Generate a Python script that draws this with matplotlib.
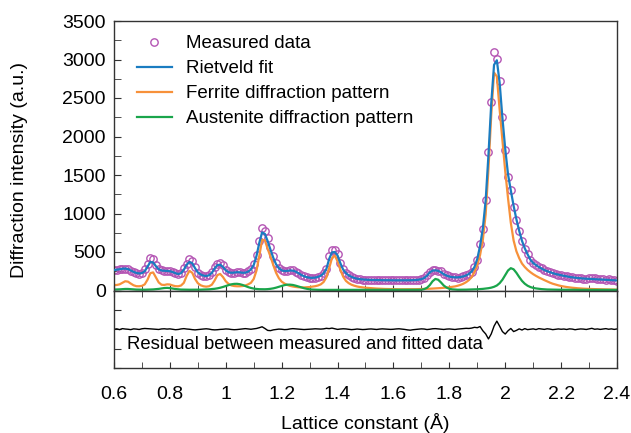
import numpy as np
import matplotlib
matplotlib.use("Agg")
import matplotlib.pyplot as plt
from matplotlib.ticker import MultipleLocator

plt.rcParams['font.family'] = ['Liberation Sans', 'DejaVu Sans']

# Lattice constant grid (Å), 0.60 .. 2.40 in 0.01 steps
lattice = np.round(np.arange(181) * 0.01 + 0.60, 2)

measured = [
    262, 270, 280, 282, 285, 275, 255, 237, 225, 220,
    228, 275, 350, 420, 405, 330, 278, 262, 258, 255,
    252, 240, 222, 210, 225, 290, 350, 412, 385, 300,
    232, 205, 190, 182, 200, 235, 300, 345, 352, 325,
    265, 240, 225, 232, 240, 235, 228, 228, 248, 275,
    340, 460, 640, 815, 770, 680, 560, 450, 355, 295,
    262, 250, 255, 262, 260, 245, 225, 200, 182, 170,
    165, 162, 168, 178, 192, 225, 285, 450, 525, 520,
    470, 360, 275, 225, 195, 175, 162, 150, 145, 140,
    138, 140, 136, 135, 138, 134, 136, 133, 135, 132,
    134, 131, 133, 130, 132, 130, 131, 133, 136, 140,
    148, 165, 198, 245, 262, 268, 258, 248, 215, 195,
    182, 174, 172, 168, 175, 182, 195, 210, 245, 300,
    400, 600, 800, 1180, 1800, 2450, 3100, 3010, 2720, 2250,
    1830, 1480, 1300, 1090, 920, 770, 640, 545, 470, 395,
    358, 332, 308, 288, 266, 252, 240, 226, 215, 206,
    198, 190, 182, 174, 170, 165, 160, 156, 151, 153,
    158, 165, 166, 152, 148, 150, 142, 145, 132, 135,
    126,
]

rietveld_fit = [
    265, 270, 276, 282, 285, 278, 260, 242, 228, 222,
    226, 250, 310, 370, 365, 315, 275, 260, 256, 254,
    250, 240, 225, 214, 225, 270, 335, 370, 355, 290,
    235, 208, 193, 188, 198, 228, 285, 330, 335, 305,
    262, 238, 230, 233, 238, 236, 230, 232, 245, 272,
    330, 450, 620, 755, 735, 640, 530, 425, 340, 290,
    262, 252, 255, 260, 258, 245, 225, 202, 185, 173,
    166, 164, 168, 177, 192, 222, 280, 410, 495, 500,
    455, 355, 272, 225, 196, 177, 163, 153, 147, 143,
    140, 138, 137, 136, 135, 135, 134, 134, 133, 133,
    132, 132, 132, 132, 132, 132, 133, 134, 136, 140,
    147, 162, 192, 235, 258, 262, 255, 238, 212, 193,
    181, 174, 171, 171, 175, 183, 196, 215, 248, 305,
    410, 580, 810, 1170, 1760, 2430, 2930, 2990, 2700, 2240,
    1840, 1510, 1300, 1100, 925, 775, 645, 548, 470, 400,
    358, 330, 306, 285, 266, 251, 238, 226, 215, 206,
    198, 190, 183, 176, 171, 166, 162, 158, 155, 153,
    151, 149, 147, 145, 143, 141, 139, 137, 135, 133,
    131,
]

ferrite = [
    70, 72, 80, 100, 120, 115, 90, 68, 56, 55,
    60, 80, 140, 225, 235, 170, 105, 75, 72, 80,
    78, 65, 56, 55, 65, 100, 190, 255, 230, 150,
    95, 68, 55, 50, 55, 75, 130, 200, 215, 175,
    120, 85, 66, 58, 55, 55, 58, 65, 80, 100,
    150, 260, 450, 660, 650, 540, 440, 330, 230, 160,
    115, 90, 72, 60, 52, 46, 42, 40, 40, 42,
    45, 50, 56, 65, 80, 110, 170, 290, 420, 455,
    380, 270, 180, 125, 95, 75, 62, 52, 45, 40,
    36, 33, 30, 27, 25, 23, 21, 20, 19, 18,
    17, 17, 16, 16, 16, 16, 16, 17, 17, 18,
    19, 20, 21, 23, 25, 27, 29, 32, 35, 38,
    42, 47, 53, 62, 73, 88, 108, 135, 175, 240,
    330, 460, 660, 990, 1580, 2280, 2830, 2780, 2350, 1950,
    1550, 1200, 880, 650, 510, 420, 350, 305, 268, 238,
    212, 190, 170, 152, 135, 118, 102, 88, 77, 67,
    58, 51, 45, 40, 36, 32, 29, 26, 24, 22,
    20, 19, 18, 17, 16, 15, 14, 13, 12, 12,
    11,
]

austenite = [
    12, 13, 15, 18, 20, 20, 17, 14, 12, 11,
    10, 10, 11, 12, 14, 17, 21, 27, 32, 34,
    31, 25, 19, 15, 12, 11, 10, 10, 10, 10,
    10, 11, 12, 13, 15, 18, 22, 28, 36, 46,
    58, 70, 80, 86, 87, 82, 72, 58, 44, 33,
    25, 20, 17, 16, 16, 18, 22, 28, 37, 48,
    60, 70, 76, 76, 72, 63, 52, 40, 30, 22,
    16, 12, 10, 9, 8, 8, 8, 8, 8, 8,
    8, 8, 8, 8, 8, 8, 8, 8, 8, 8,
    8, 8, 8, 8, 8, 8, 8, 8, 8, 8,
    8, 8, 8, 8, 8, 8, 8, 8, 8, 9,
    10, 18, 35, 70, 120, 150, 140, 105, 65, 38,
    22, 15, 12, 10, 10, 10, 11, 12, 13, 14,
    16, 18, 21, 25, 30, 37, 48, 65, 95, 140,
    200, 260, 290, 275, 230, 175, 125, 88, 62, 45,
    34, 27, 22, 18, 15, 13, 12, 11, 10, 10,
    10, 9, 9, 9, 9, 9, 8, 8, 8, 8,
    8, 8, 8, 8, 8, 8, 8, 8, 8, 8,
    8,
]

residual = [
    0, 5, -5, 8, 3, 0, -5, 5, 2, -3,
    6, 10, 8, 5, 2, 0, -3, 4, 6, 2,
    5, 0, -6, -3, 4, 8, 3, 0, -5, -8,
    -4, 0, 3, 6, 2, -5, -8, -6, -2, 0,
    4, 2, -3, -6, -4, 0, 5, 8, 4, 0,
    5, 10, 20, 32, 10, -15, -18, -8, -3, 2,
    0, -5, -3, 4, 8, 5, 2, 0, -4, -2,
    0, 3, 6, 4, 2, 5, 12, 8, 15, 6,
    -2, 3, 6, 4, 0, -5, -2, 3, 0, -4,
    -2, 2, 4, 0, -3, 2, 5, 3, 0, -2,
    0, 4, 6, 2, -2, -8, -12, -6, -2, 2,
    5, 3, -4, 0, 6, 8, 4, 0, -3, 2,
    4, 0, -3, 2, 5, 8, 12, 10, 15, 25,
    20, 35, -20, -60, -125, -60, 40, 105, 40, -30,
    -62, -20, 10, -30, -15, 5, -10, 8, -5, 0,
    5, -4, 8, 3, -2, 6, 2, -5, 0, 4,
    0, 3, -3, 5, 2, -6, 0, 4, 2, -3,
    5, 12, 0, 4, -2, 3, 8, 0, 5, -2,
    4,
]

legend_labels = ["Measured data", "Rietveld fit", "Ferrite diffraction pattern",
                 "Austenite diffraction pattern"]
residual_label = "Residual between measured and fitted data"
x_label = "Lattice constant (Å)"
y_label = "Diffraction intensity (a.u.)"
x_tick_labels = ['0.6', '0.8', '1', '1.2', '1.4', '1.6', '1.8', '2', '2.2', '2.4']

c_meas = '#b455b4'
c_fit = '#1a7cc1'
c_fer = '#f7913a'
c_aus = '#1aa54b'
c_spine = '#333333'

fig = plt.figure(figsize=(6.31, 4.33), dpi=100)
W, H = 631, 433
left, right = 114 / W, 617 / W
top_y, zero_y, bot_y = 21, 290.5, 368
ax = fig.add_axes([left, 1 - zero_y / H, right - left, (zero_y - top_y) / H])
axr = fig.add_axes([left, 1 - bot_y / H, right - left, (bot_y - zero_y) / H], sharex=ax)

ax.plot(lattice, measured, 'o', ms=5.3, mfc='none', mec=c_meas, mew=1.0,
        label=legend_labels[0], zorder=2)
ax.plot(lattice, rietveld_fit, '-', color=c_fit, lw=1.6, label=legend_labels[1], zorder=3)
ax.plot(lattice, ferrite, '-', color=c_fer, lw=1.6, label=legend_labels[2], zorder=2.5)
ax.plot(lattice, austenite, '-', color=c_aus, lw=1.6, label=legend_labels[3], zorder=2.5)

ax.set_xlim(0.6, 2.4)
ax.set_ylim(0, 3500)
ax.yaxis.set_major_locator(MultipleLocator(500))
ax.yaxis.set_minor_locator(MultipleLocator(250))
ax.xaxis.set_major_locator(MultipleLocator(0.1))
ax.tick_params(axis='x', which='both', direction='in', length=4.5, labelbottom=False,
               color=c_spine)
ax.tick_params(axis='y', which='both', direction='in', length=5, labelsize=14,
               pad=6, color=c_spine)
for s in ax.spines.values():
    s.set_color(c_spine)
    s.set_linewidth(1.0)
ax.set_ylabel(y_label, fontsize=14)
ax.yaxis.set_label_coords(-0.171, 0.447)

leg = ax.legend(loc='upper left', bbox_to_anchor=(0.03, 0.975), frameon=False,
                fontsize=13.5, handlelength=1.9, handletextpad=0.75, labelspacing=0.42,
                borderaxespad=0)

axr.plot(lattice, residual, '-', color='black', lw=1.0)
axr.set_ylim(-500, 500)
axr.yaxis.set_major_locator(MultipleLocator(250))
axr.set_xticks(np.arange(0.6, 2.41, 0.2))
axr.set_xticklabels(x_tick_labels)
axr.xaxis.set_minor_locator(MultipleLocator(0.1))
axr.tick_params(axis='x', which='both', direction='in', length=4.5, top=True,
                labelsize=14, pad=13, color=c_spine)
axr.tick_params(axis='y', which='both', direction='in', length=5, labelleft=False,
                color=c_spine)
for s in axr.spines.values():
    s.set_color(c_spine)
    s.set_linewidth(1.0)
axr.text(0.025, 0.30, residual_label, transform=axr.transAxes, fontsize=13.3,
         ha='left', va='center')
axr.set_xlabel(x_label, fontsize=14, labelpad=7)

fig.savefig('out.png', dpi=100)
